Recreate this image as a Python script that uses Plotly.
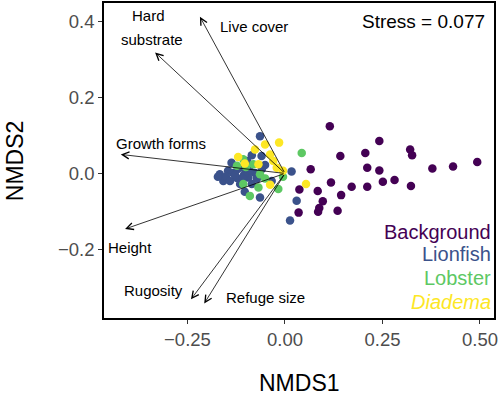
import plotly.graph_objects as go

# ---- site scores (NMDS1, NMDS2) ----
bg_x = [0.115, 0.242, 0.142, 0.206, 0.321, 0.326, 0.493, 0.431, 0.378, 0.066, 0.211, 0.242, 0.118,
        0.251, 0.281, 0.171, 0.211, 0.323, 0.037, 0.084, 0.144, 0.097, 0.088, 0.035, 0.085, 0.135]
bg_y = [0.124, 0.085, 0.046, 0.054, 0.063, 0.048, 0.030, 0.018, 0.013, 0.011, 0.015, 0.008, -0.024,
        -0.022, -0.017, -0.035, -0.035, -0.033, -0.042, -0.046, -0.057, -0.073, -0.091, -0.103, -0.101, -0.098]

lf_x = [-0.064, -0.085, -0.060, -0.137, -0.051, -0.167, -0.158, -0.146, -0.133, -0.121, -0.107, -0.123,
        -0.094, -0.077, -0.115, -0.085, -0.034, -0.103, -0.064, 0.017, 0.030, 0.013, -0.151, -0.141,
        -0.128, -0.105, -0.090, -0.059, -0.072, -0.108, -0.172, -0.097]
lf_y = [0.098, 0.048, 0.046, 0.028, 0.022, -0.002, -0.020, 0.007, 0.001, 0.012, 0.015, -0.012,
        -0.011, 0.001, -0.028, -0.028, -0.020, -0.048, -0.063, 0.005, -0.072, -0.124, -0.009, -0.020,
        -0.004, -0.004, 0.007, 0.012, -0.014, -0.014, -0.009, 0.033]

lb_x = [0.043, -0.107, -0.081, -0.100, -0.064, -0.051, -0.017, -0.068, -0.090, -0.107, -0.123, -0.005]
lb_y = [0.054, 0.037, 0.024, 0.017, -0.002, -0.013, -0.041, -0.037, -0.059, -0.028, 0.020, -0.009]

di_x = [-0.015, -0.051, -0.077, -0.038, -0.120, -0.103, -0.068, -0.021, -0.038, 0.054, -0.030, -0.005]
di_y = [0.081, 0.076, 0.063, 0.050, 0.043, 0.026, 0.024, 0.015, -0.030, -0.028, 0.033, 0.007]

# ---- habitat vectors ----
vec_x = [-0.333, -0.218, -0.421, -0.410, -0.241, -0.207]
vec_y = [0.318, 0.412, 0.050, -0.146, -0.331, -0.342]

vec_labels = ["Hard", "substrate", "Live cover", "Growth forms", "Height", "Rugosity", "Refuge size"]
lab_x = [-0.349, -0.342, -0.079, -0.318, -0.397, -0.338, -0.049]
lab_y = [0.414, 0.351, 0.386, 0.080, -0.194, -0.307, -0.327]

groups = ["Background", "Lionfish", "Lobster", "Diadema"]
colors = ["#440154", "#3B528B", "#5DC863", "#FDE725"]
group_label_y = [-0.155, -0.213, -0.276, -0.339]

stress_text = "Stress = 0.077"

fig = go.Figure()
for gx, gy, name, col in zip([bg_x, lf_x, lb_x, di_x], [bg_y, lf_y, lb_y, di_y], groups, colors):
    fig.add_trace(go.Scatter(x=gx, y=gy, mode="markers", name=name,
                             marker=dict(color=col, size=8.5, line=dict(width=0))))

ann = []
for vx, vy in zip(vec_x, vec_y):
    ann.append(dict(x=vx, y=vy, ax=0, ay=0, xref="x", yref="y", axref="x", ayref="y",
                    showarrow=True, arrowhead=5, arrowsize=1.7, arrowwidth=0.8,
                    arrowcolor="black", standoff=0, startstandoff=0, text=""))
for t, lx, ly in zip(vec_labels, lab_x, lab_y):
    ann.append(dict(x=lx, y=ly, xref="x", yref="y", text=t, showarrow=False,
                    font=dict(size=15, color="black"), xanchor="center", yanchor="middle"))
for name, col, gy in zip(groups, colors, group_label_y):
    txt = "<i>" + name + "</i>" if name == "Diadema" else name
    ann.append(dict(x=0.533, y=gy, xref="x", yref="y", text=txt, showarrow=False,
                    font=dict(size=20, color=col), xanchor="right", yanchor="middle"))
ann.append(dict(x=0.517, y=0.399, xref="x", yref="y", text=stress_text, showarrow=False,
                font=dict(size=19, color="black"), xanchor="right", yanchor="middle"))
ann.append(dict(x=0.5, y=-0.205, xref="paper", yref="paper", text="NMDS1", showarrow=False,
                font=dict(size=23, color="black"), xanchor="center", yanchor="middle"))
ann.append(dict(x=-0.228, y=0.498, xref="paper", yref="paper", text="NMDS2", showarrow=False,
                textangle=-90, font=dict(size=23, color="black"), xanchor="center", yanchor="middle"))

axis_common = dict(showgrid=False, zeroline=False, showline=True, linecolor="black", linewidth=1.6,
                   mirror=True, ticks="outside", ticklen=4, tickwidth=1, tickcolor="#333333",
                   tickfont=dict(size=18.5, color="#4D4D4D"))

fig.update_layout(
    width=500, height=395,
    margin=dict(l=104, r=6, t=1, b=77),
    paper_bgcolor="white", plot_bgcolor="white",
    showlegend=False,
    font=dict(family="Liberation Sans, Arial, sans-serif"),
    xaxis=dict(range=[-0.464, 0.536], tickvals=[-0.25, 0, 0.25, 0.5], tickformat=".2f", **axis_common),
    yaxis=dict(range=[-0.380, 0.448], tickvals=[-0.2, 0, 0.2, 0.4], tickformat=".1f", **axis_common),
    annotations=ann,
)

fig.write_html("out.html", config={"displayModeBar": False},
               post_script="document.body.style.margin='0';document.body.style.overflow='hidden';")
